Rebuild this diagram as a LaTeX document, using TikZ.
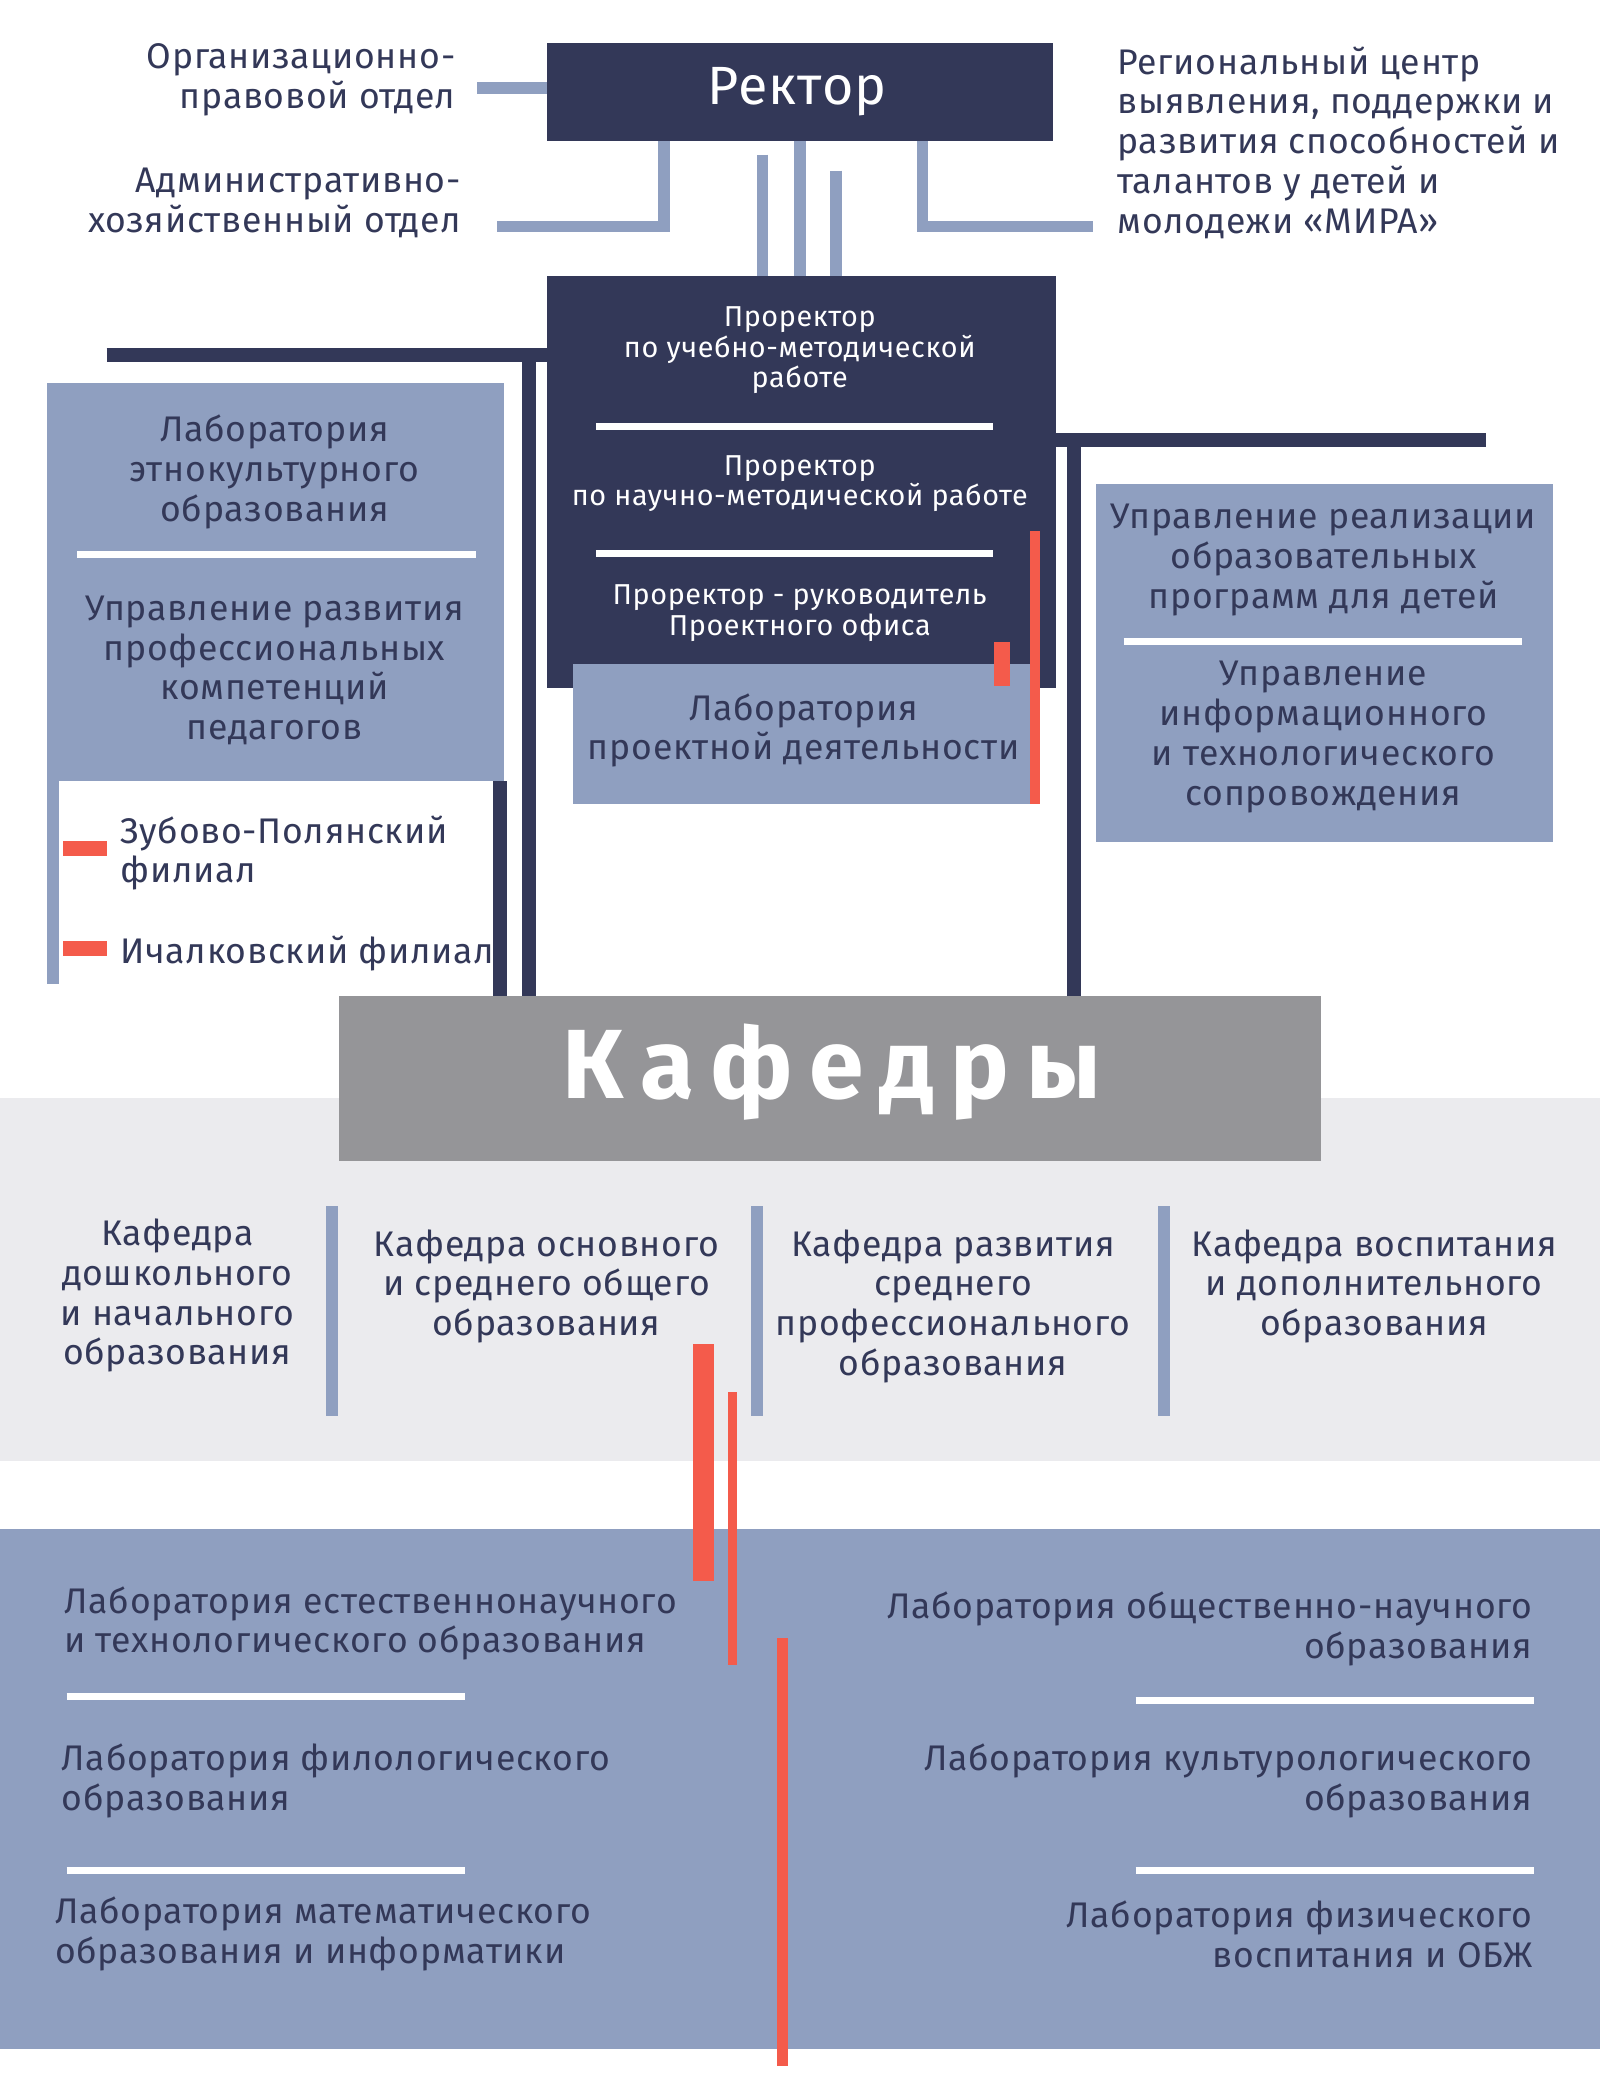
\documentclass[tikz,border=0pt]{standalone}
\usepackage{fontspec}
\setmainfont{Fira Sans}[LetterSpace=2]
\usetikzlibrary{positioning}
\definecolor{navy}{HTML}{333858}
\definecolor{steel}{HTML}{8F9FC0}
\definecolor{ash}{HTML}{959598}
\definecolor{mist}{HTML}{EBEBEE}
\definecolor{coral}{HTML}{F45B4B}
\tikzset{
    % text styles
    lbl/.style={text=navy, font=\fontsize{15.2}{17}\selectfont, inner sep=0pt, align=center},
    wlbl/.style={text=white, font=\fontsize{12.3}{13}\selectfont, inner sep=0pt, align=center},
    % line styles
    blueline/.style={draw=steel, line width=5pt},
    navyline/.style={draw=navy, line width=6pt},
    sep/.style={draw=white, line width=3pt},
}

\begin{document}
\begin{tikzpicture}[x=0.02cm, y=-0.02cm]
\useasboundingbox (0,0) rectangle (1200,1568);

%%%%%%%%%%%%%%%%%%%%%%%%%%%%%%%%%
% backgrounds
%%%%%%%%%%%%%%%%%%%%%%%%%%%%%%%%%
\fill[mist] (0,824) rectangle (1200,1096);
\fill[steel] (0,1147) rectangle (1200,1537);

%%%%%%%%%%%%%%%%%%%%%%%%%%%%%%%%%
% top
%%%%%%%%%%%%%%%%%%%%%%%%%%%%%%%%%
\fill[navy] (410,32) rectangle (790,106);
\node[text=white, font=\fontsize{23}{26}\selectfont] (rector) at (598,69) {Ректор};

\node[lbl, align=right, anchor=east] (org) at (342,60) {Организационно-\\правовой отдел};
\node[lbl, align=right, anchor=east] (adm) at (346,152) {Административно-\\хозяйственный отдел};
\node[lbl, align=left, anchor=west] (mira) at (838,107) {Региональный центр\\выявления, поддержки и\\развития способностей и\\талантов у детей и\\молодежи «МИРА»};

\draw[blueline] (358,66) -- (410,66);
\draw[blueline] (373,170) -- (498,170) -- (498,106);
\draw[blueline] (692,106) -- (692,170) -- (820,170);
\draw[blueline] (572,116) -- (572,207);
\draw[blueline] (600,106) -- (600,207);
\draw[blueline] (627,128) -- (627,207);

%%%%%%%%%%%%%%%%%%%%%%%%%%%%%%%%%
% prorectors
%%%%%%%%%%%%%%%%%%%%%%%%%%%%%%%%%
\draw[navyline] (80,266) -- (410,266);
\draw[navyline] (397,266) -- (397,748);
\draw[navyline] (375,586) -- (375,748);
\draw[navyline] (792,330) -- (1115,330);
\draw[navyline] (806,330) -- (806,748);

\fill[navy] (410,207) rectangle (792,516);
\node[wlbl] (pr1) at (600,263) {Проректор\\по учебно-методической\\работе};
\draw[sep] (447,320) -- (745,320);
\node[wlbl] (pr2) at (600,363) {Проректор\\по научно-методической работе};
\draw[sep] (447,415) -- (745,415);
\node[wlbl] (pr3) at (600,460) {Проректор - руководитель\\Проектного офиса};

\fill[steel] (430,498) rectangle (778,603);
\node[lbl] (proj) at (603,548) {Лаборатория\\проектной деятельности};
\fill[coral] (773,398) rectangle (780,603);
\fill[coral] (746,482) rectangle (758,515);

%%%%%%%%%%%%%%%%%%%%%%%%%%%%%%%%%
% left block
%%%%%%%%%%%%%%%%%%%%%%%%%%%%%%%%%
\fill[steel] (35,287) rectangle (378,586);
\node[lbl] (ethno) at (206,354) {Лаборатория\\этнокультурного\\образования};
\draw[sep] (58,416) -- (357,416);
\node[lbl] (comp) at (206,503) {Управление развития\\профессиональных\\компетенций\\педагогов};
\draw[blueline] (40,586) -- (40,738);
\fill[coral] (47,631) rectangle (80,642);
\fill[coral] (47,706) rectangle (80,717);
\node[lbl, align=left, anchor=west] (zub) at (90,640) {Зубово-Полянский\\филиал};
\node[lbl, align=left, anchor=west] (ich) at (90,715) {Ичалковский филиал};

%%%%%%%%%%%%%%%%%%%%%%%%%%%%%%%%%
% right block
%%%%%%%%%%%%%%%%%%%%%%%%%%%%%%%%%
\fill[steel] (822,363) rectangle (1165,632);
\node[lbl] (child) at (993,420) {Управление реализации\\образовательных\\программ для детей};
\draw[sep] (843,481) -- (1142,481);
\node[lbl] (info) at (993,553) {Управление\\информационного\\и технологического\\сопровождения};

%%%%%%%%%%%%%%%%%%%%%%%%%%%%%%%%%
% chairs
%%%%%%%%%%%%%%%%%%%%%%%%%%%%%%%%%
\fill[ash] (254,747) rectangle (991,871);
\node[text=white, font=\bfseries\fontsize{42}{48}\selectfont] (kaf) at (624,804) {К\,а\,ф\,е\,д\,р\,ы};

\foreach \xx in {249,568,873}
    \draw[blueline] (\xx,905) -- (\xx,1062);
\node[lbl] (k1) at (133,972) {Кафедра\\дошкольного\\и начального\\образования};
\node[lbl] (k2) at (410,965) {Кафедра основного\\и среднего общего\\образования};
\node[lbl] (k3) at (715,980) {Кафедра развития\\среднего\\профессионального\\образования};
\node[lbl] (k4) at (1031,965) {Кафедра воспитания\\и дополнительного\\образования};

\fill[coral] (520,1008) rectangle (536,1186);
\fill[coral] (546,1044) rectangle (553,1249);
\fill[coral] (583,1229) rectangle (591,1550);

%%%%%%%%%%%%%%%%%%%%%%%%%%%%%%%%%
% laboratories
%%%%%%%%%%%%%%%%%%%%%%%%%%%%%%%%%
\node[lbl, align=left, anchor=west] (l1) at (48,1218) {Лаборатория естественнонаучного\\и технологического образования};
\draw[sep] (50,1273) -- (349,1273);
\node[lbl, align=left, anchor=west] (l2) at (46,1336) {Лаборатория филологического\\образования};
\draw[sep] (50,1403) -- (349,1403);
\node[lbl, align=left, anchor=west] (l3) at (41,1451) {Лаборатория математического\\образования и информатики};

\node[lbl, align=right, anchor=east] (r1) at (1150,1222) {Лаборатория общественно-научного\\образования};
\draw[sep] (852,1276) -- (1151,1276);
\node[lbl, align=right, anchor=east] (r2) at (1150,1336) {Лаборатория культурологического\\образования};
\draw[sep] (852,1403) -- (1151,1403);
\node[lbl, align=right, anchor=east] (r3) at (1150,1451) {Лаборатория физического\\воспитания и ОБЖ};
\end{tikzpicture}
\end{document}
